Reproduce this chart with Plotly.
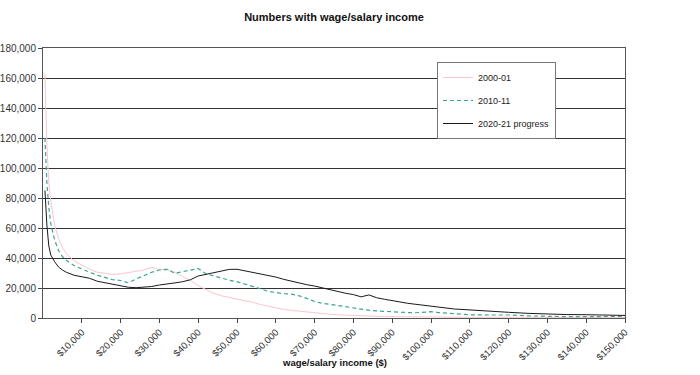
import plotly.graph_objects as go

income = [500, 1000, 1500, 2000, 3000, 4000, 5000, 6000, 8000, 10000,
          12000, 14000, 16000, 18000, 20000, 22000, 24000, 26000, 28000, 30000,
          32000, 34000, 36000, 38000, 40000, 42000, 44000, 46000, 48000, 50000,
          52000, 54000, 56000, 58000, 60000, 62000, 64000, 66000, 68000, 70000,
          72000, 74000, 76000, 78000, 80000, 82000, 84000, 86000, 88000, 90000,
          92000, 94000, 96000, 98000, 100000, 102000, 104000, 106000, 108000, 110000,
          115000, 120000, 125000, 130000, 135000, 140000, 145000, 150000]

y2000 = [163000, 115000, 90000, 78000, 62000, 53000, 47000, 43000, 38000, 35000,
         32500, 30500, 29500, 29000, 29500, 30500, 31200, 32000, 33800, 32300,
         32400, 30500, 27500, 25000, 21500, 19000, 16500, 14800, 13800, 13000,
         11800, 10500, 9000, 7800, 6600, 5800, 5100, 4500, 3800, 3300,
         2900, 2500, 2100, 1800, 1600, 1400, 1200, 1100, 1000, 900,
         800, 750, 700, 650, 600, 580, 550, 520, 500, 480,
         450, 420, 400, 380, 350, 330, 320, 300]

y2010 = [120000, 90000, 74000, 63000, 52000, 45000, 41000, 38500, 35000, 32500,
         30500, 28500, 27000, 25500, 25000, 23500, 26000, 28500, 30500, 32000,
         32400, 29800, 30900, 32000, 33000, 29500, 28000, 26200, 25200, 24200,
         22800, 21000, 19500, 17800, 16800, 16200, 15900, 14800, 13100, 11000,
         9800, 9200, 8600, 7600, 6700, 5800, 5200, 4700, 4300, 4000,
         3800, 3600, 3500, 3700, 4200, 3600, 3100, 2800, 2500, 2100,
         2000, 2000, 1400, 1000, 900, 900, 1000, 1100]

y2020 = [85000, 62000, 48000, 42000, 37500, 34000, 32000, 30500, 28500, 27500,
         26500, 24500, 23500, 22000, 21000, 20500, 20200, 20400, 21000, 22000,
         22500, 23400, 24200, 25500, 28000, 29200, 30500, 31600, 32400, 32500,
         31500, 30600, 29800, 28600, 27300, 25800, 24500, 23300, 22200, 21300,
         20000, 18800, 17700, 16500, 15600, 14100, 15400, 13500, 12500, 11400,
         10700, 9800, 9100, 8500, 7900, 7200, 6500, 6000, 5700, 5300,
         4500, 3800, 3100, 2600, 2300, 2200, 2000, 1700]

series_names = ["2000-01", "2010-11", "2020-21 progress"]
x_ticks = list(range(10000, 150001, 10000))
x_tick_labels = ["$" + format(v, ",") for v in x_ticks]
y_ticks = list(range(0, 180001, 20000))

fig = go.Figure()
fig.add_trace(go.Scatter(x=income, y=y2000, mode="lines", name=series_names[0],
                         legendgroup="a",
                         line=dict(color="#F9C6CD", width=1)))
fig.add_trace(go.Scatter(x=income, y=y2010, mode="lines", name=series_names[1],
                         legendgroup="b",
                         line=dict(color="#3AA594", width=1.2, dash="4px,3px")))
fig.add_trace(go.Scatter(x=income, y=y2020, mode="lines", name=series_names[2],
                         legendgroup="c",
                         line=dict(color="#1a1a1a", width=1)))

font_family = "Liberation Sans, Arial, sans-serif"

W, H = 700, 375
fig.update_layout(
    width=W, height=H,
    margin=dict(l=43, r=75, t=48, b=57, autoexpand=False),
    paper_bgcolor="white", plot_bgcolor="white",
    font=dict(family=font_family, size=10, color="#222"),
    title=dict(text="<b>Numbers with wage/salary income</b>",
               x=334 / W, xanchor="center", y=1 - 17 / H, yanchor="middle",
               font=dict(size=11, color="#111", family=font_family)),
    showlegend=True,
    legend=dict(x=0.677, y=(318 - 62) / 270, xanchor="left", yanchor="top",
                bgcolor="white", bordercolor="#777", borderwidth=1,
                traceorder="grouped", tracegroupgap=4,
                font=dict(size=9, color="#222", family=font_family)),
    xaxis=dict(range=[0, 150000], tickmode="array", tickvals=x_ticks,
               ticktext=x_tick_labels, tickangle=-45, ticks="outside",
               ticklen=4, tickcolor="#444", showgrid=False, zeroline=False,
               showline=True, linecolor="#555", linewidth=1, mirror=True,
               automargin=False,
               tickfont=dict(size=9.5, color="#333")),
    yaxis=dict(range=[0, 180000], tickmode="array", tickvals=y_ticks,
               tickformat=",d", ticks="outside", ticklen=4, tickcolor="#444",
               showgrid=True, gridcolor="#333", gridwidth=1, zeroline=False,
               showline=True, linecolor="#555", linewidth=1, mirror=True,
               automargin=False,
               tickfont=dict(size=10, color="#333")),
    annotations=[dict(text="<b>wage/salary income ($)</b>", xref="paper", yref="paper",
                      x=0.5, y=-(362 - 318) / 270, xanchor="center", yanchor="middle",
                      showarrow=False, font=dict(size=9.5, color="#111", family=font_family))],
)

fig.write_html("out.html",
               config={"displayModeBar": False},
               post_script="document.body.style.margin='0px';document.body.style.padding='0px';")
